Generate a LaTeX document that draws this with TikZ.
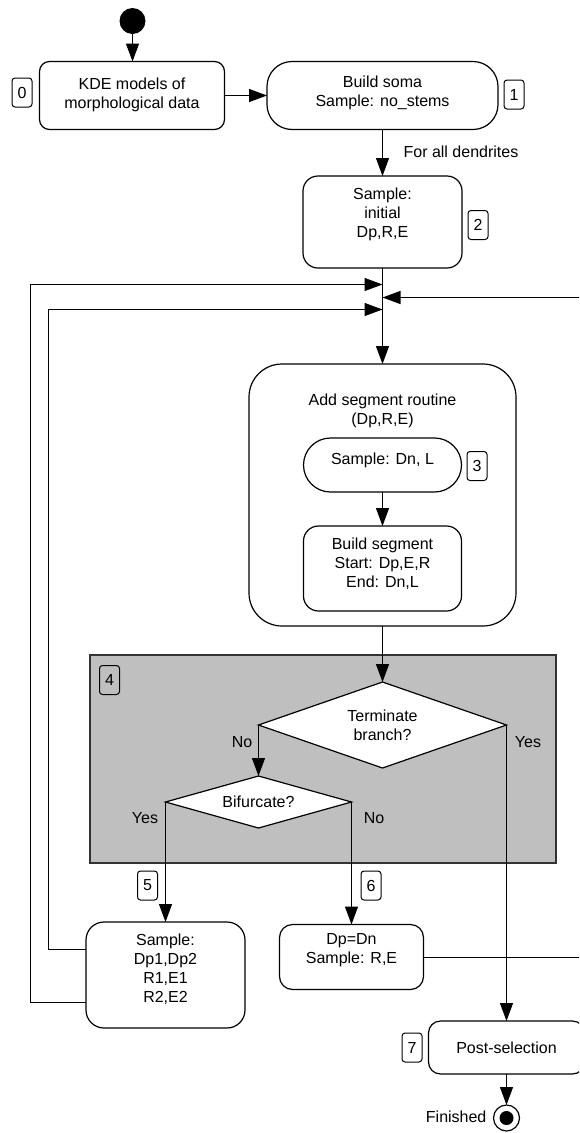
\documentclass[tikz,border=0pt]{standalone}
\usepackage{fontspec}
\setmainfont{Liberation Sans}
\usetikzlibrary{shapes.geometric,arrows.meta,calc}
\tikzset{
  card/.style={draw, fill=white, rounded corners=#1, inner sep=0pt, outer sep=0pt},
  card/.default=10pt,
  tag/.style={draw, rounded corners=3pt, line width=1pt, minimum width=20pt, minimum height=29pt, inner sep=0pt},
  txt/.style={align=center, inner sep=0pt},
  decision/.style={diamond, draw, fill=white, inner sep=0pt, outer sep=0pt, aspect=2.9, align=center},
  arr/.style={-{Triangle[length=18pt,width=13pt]}},
  grp/.style={draw=black!80, fill=black!25, line width=1.2pt, inner sep=0pt}
}
\begin{document}
\begin{tikzpicture}[x=1pt,y=-1pt,font=\fontsize{16pt}{19pt}\selectfont,line width=1.2pt]
\useasboundingbox (0,0) rectangle (579,1133);
\clip (0,0) rectangle (579,1133);

% group background
\node[grp, minimum width=466pt, minimum height=208pt] (grp) at (323,759) {};

% start
\node[circle, fill=black, minimum size=26pt, inner sep=0pt, outer sep=0pt] (start) at (132.5,21) {};

% boxes
\node[card=10pt, minimum width=185pt, minimum height=68pt] (b0) at (132,95.5) {};
\node[card=25pt, minimum width=231pt, minimum height=68pt] (b1) at (382.5,95.5) {};
\node[card=15pt, minimum width=159pt, minimum height=92pt] (b2) at (382.5,222) {};
\node[card=33pt, minimum width=267pt, minimum height=262pt] (b3) at (382.5,495) {};
\node[card=27pt, minimum width=158pt, minimum height=54pt] (b3a) at (382.5,465) {};
\node[card=15pt, minimum width=158pt, minimum height=85pt] (b3b) at (382.5,568.5) {};
\node[decision, minimum width=248pt, minimum height=86pt] (d1) at (382.5,725) {Terminate\\branch?};
\node[decision, minimum width=186pt, minimum height=52pt] (d2) at (258.5,802) {Bifurcate?};
\node[card=18pt, minimum width=159pt, minimum height=106pt] (b5) at (165.5,975) {};
\node[card=13pt, minimum width=144pt, minimum height=65pt] (b6) at (351.5,957) {};
\node[card=12pt, minimum width=156pt, minimum height=53pt] (b7) at (506.5,1047.5) {};

% end
\node[circle, draw, fill=white, minimum size=26pt, inner sep=0pt, outer sep=0pt] (fin) at (506.5,1118) {};
\node[circle, fill=black, minimum size=14pt, inner sep=0pt] (findot) at (fin.center) {};

% texts
\node[txt] (t0) at (132,95) {KDE models of\\morphological data};
\node[txt] (t1) at (382.5,93) {Build soma\\Sample: no\_stems};
\node[txt, anchor=west] (tfor) at (403,152) {For all dendrites};
\node[txt] (t2) at (382.5,214) {Sample:\\initial\\Dp,R,E};
\node[txt] (t3) at (382.5,411) {Add segment routine\\(Dp,R,E)};
\node[txt] (t3a) at (382.5,460) {Sample: Dn, L};
\node[txt] (t3b) at (382.5,563.5) {Build segment\\Start: Dp,E,R\\End: Dn,L};
\node[txt] (t5) at (165.5,969.5) {Sample:\\Dp1,Dp2\\R1,E1\\R2,E2};
\node[txt] (t6) at (351.5,950) {Dp=Dn\\Sample: R,E};
\node[txt] (t7) at (506.5,1047.5) {Post-selection};
\node[txt, anchor=east] (tfin) at (487,1117) {Finished};
\node[txt] (no1) at (242,742) {No};
\node[txt] (yes1) at (528,742) {Yes};
\node[txt] (yes2) at (145,818) {Yes};
\node[txt] (no2) at (374,818) {No};

% tags
\node[tag] (g0) at (22,92.5) {0};
\node[tag] (g1) at (514,94.5) {1};
\node[tag] (g2) at (478,225) {2};
\node[tag] (g3) at (477,466) {3};
\node[tag] (g4) at (109.5,680) {4};
\node[tag] (g5) at (147.5,885.5) {5};
\node[tag] (g6) at (371,885.5) {6};
\node[tag] (g7) at (412,1047.5) {7};

% merge points on main line
\coordinate (m1) at (382.5,284.5);
\coordinate (m2) at (382.5,297.5);
\coordinate (m3) at (382.5,309.5);
\coordinate (j1) at (48.5,949.5);
\coordinate (j2) at (30.5,1002.5);
\coordinate (r1) at (582,957.5);

% connectors
\draw[arr] (start) -- (b0.north -| start);
\draw[arr] (b0.east) -- (b1.west);
\draw[arr] (b1.south) -- (b2.north);
\draw[arr] (b2.south) -- (b3.north);
\draw[arr] (b3a.south) -- (b3b.north);
\draw[arr] (b3.south) -- (d1.north);
\draw[arr] (d1.west) -- (d2.north);
\draw[arr] (d2.west) -- (b5.north -| d2.west);
\draw[arr] (d2.east) -- (b6.north -| d2.east);
\draw[arr] (d1.east) -- (b7.north -| d1.east);
\draw[arr] (b7.south) -- (fin.north);
\draw[arr] (j1 -| b5.west) -- (j1) -- (j1 |- m3) -- (m3);
\draw[arr] (j2 -| b5.west) -- (j2) -- (j2 |- m1) -- (m1);
\draw[arr] (b6.east |- r1) -- (r1) -- (r1 |- m2) -- (m2);
\end{tikzpicture}
\end{document}
